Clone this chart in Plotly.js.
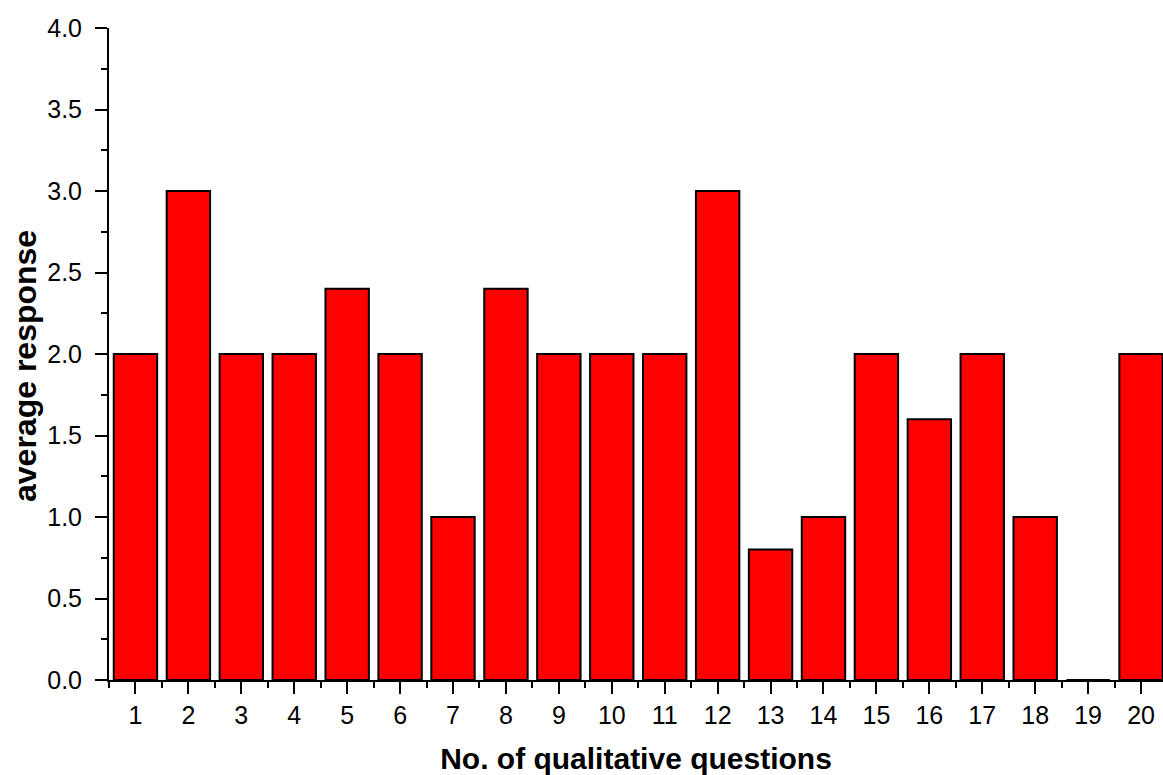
<!DOCTYPE html>
<html><head><meta charset="utf-8">
<script src="https://cdn.plot.ly/plotly-3.0.1.min.js"></script>
<style>html,body{margin:0;padding:0;background:#fff}#chart{width:1163px;height:775px}</style>
</head><body><div id="chart"></div>
<script>
const questions = [1,2,3,4,5,6,7,8,9,10,11,12,13,14,15,16,17,18,19,20];
const averageResponse = [2,3,2,2,2.4,2,1,2.4,2,2,2,3,0.8,1,2,1.6,2,1,0,2];
const xTitle = 'No. of qualitative questions';
const yTitle = 'average response';
const font = 'Liberation Sans, Arial, sans-serif';

Plotly.newPlot('chart', [{
  type: 'bar',
  x: questions,
  y: averageResponse,
  width: 0.82,
  marker: {color: '#ff0000', line: {color: '#000', width: 2}},
  cliponaxis: false
}], {
  width: 1163, height: 775,
  margin: {l: 109, r: 0, t: 28, b: 95},
  paper_bgcolor: '#fff', plot_bgcolor: '#fff',
  showlegend: false,
  font: {family: font, color: '#000', size: 25},
  xaxis: {
    range: [0.5, 20.415], tickmode: 'linear', tick0: 1, dtick: 1,
    showgrid: false, zeroline: false, showline: true, linecolor: '#000', linewidth: 2,
    ticks: 'outside', ticklen: 12, tickwidth: 2, tickcolor: '#000',
    minor: {ticks: 'outside', tick0: 0.5, dtick: 1, ticklen: 6, tickwidth: 2, tickcolor: '#000', showgrid: false},
    tickfont: {size: 25},
    title: {text: '<b>' + xTitle + '</b>', font: {size: 30}, standoff: 22}
  },
  yaxis: {
    range: [0, 4], tickmode: 'linear', tick0: 0, dtick: 0.5, tickformat: '.1f',
    showgrid: false, zeroline: false, showline: true, linecolor: '#000', linewidth: 2,
    ticks: 'outside', ticklen: 12, tickwidth: 2, tickcolor: '#000',
    minor: {ticks: 'outside', tick0: 0, dtick: 0.25, ticklen: 6, tickwidth: 2, tickcolor: '#000', showgrid: false},
    tickfont: {size: 25}, ticklabelstandoff: 8
  },
  annotations: [{
    text: '<b>' + yTitle + '</b>', xref: 'paper', yref: 'paper',
    x: -0.0797, y: 0.4816, xanchor: 'center', yanchor: 'middle',
    textangle: -90, showarrow: false, font: {size: 32, family: font, color: '#000'}
  }]
}, {displayModeBar: false, staticPlot: true});
</script></body></html>
